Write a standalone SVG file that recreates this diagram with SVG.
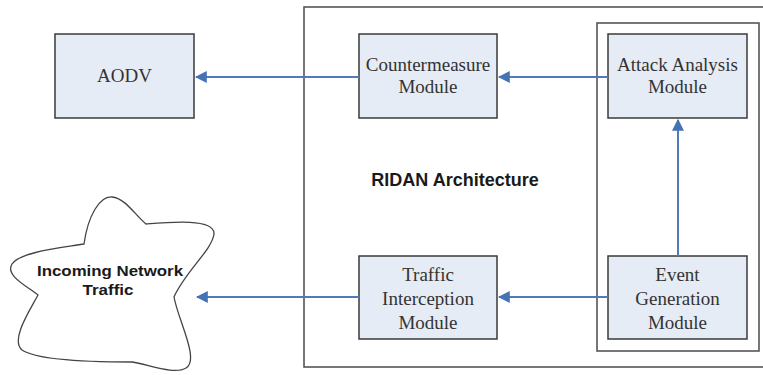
<svg xmlns="http://www.w3.org/2000/svg" width="763" height="375" viewBox="0 0 763 375">
<defs>
<style>
.box{fill:#e6ecf5;stroke:#3a3a3a;stroke-width:1.5}
.frame{fill:none;stroke:#555;stroke-width:1.6}
.lbl{font-family:"Liberation Serif","Times New Roman",serif;font-size:19px;fill:#333;text-anchor:middle}
.bold{font-family:"Liberation Sans",Arial,sans-serif;font-weight:bold;fill:#1a1a1a;text-anchor:middle}
.conn{stroke:#4f7cb8;stroke-width:2;fill:none;marker-end:url(#ah)}
</style>
<marker id="ah" viewBox="0 0 10 10" refX="9" refY="5" markerWidth="6" markerHeight="6" orient="auto" markerUnits="strokeWidth">
<path d="M0,0 L10,5 L0,10 Z" fill="#4572b4"/>
</marker>
</defs>
<rect width="763" height="375" fill="#ffffff"/>
<g id="ridan-frame">
<rect class="frame" x="304" y="7" width="465" height="360"/>
<text class="bold" x="455" y="186" font-size="18">RIDAN Architecture</text>
</g>
<g id="inner-frame">
<rect class="frame" x="597" y="23" width="162" height="328"/>
</g>
<g id="aodv">
<rect class="box" x="55" y="34" width="139" height="84"/>
<text class="lbl" x="124.5" y="82">AODV</text>
</g>
<g id="countermeasure">
<rect class="box" x="359" y="34" width="138" height="84"/>
<text class="lbl" x="428" y="71">Countermeasure</text>
<text class="lbl" x="428" y="93">Module</text>
</g>
<g id="attack-analysis">
<rect class="box" x="608" y="34" width="139" height="84"/>
<text class="lbl" x="677.5" y="71">Attack Analysis</text>
<text class="lbl" x="677.5" y="93">Module</text>
</g>
<g id="traffic-interception">
<rect class="box" x="359" y="256" width="138" height="83"/>
<text class="lbl" x="428" y="281">Traffic</text>
<text class="lbl" x="428" y="305">Interception</text>
<text class="lbl" x="428" y="329">Module</text>
</g>
<g id="event-generation">
<rect class="box" x="608" y="256" width="139" height="83"/>
<text class="lbl" x="677.5" y="281">Event</text>
<text class="lbl" x="677.5" y="305">Generation</text>
<text class="lbl" x="677.5" y="329">Module</text>
</g>
<g id="incoming-traffic">
<path d="M84,244 C88,215 100,196 112,197 C125,198 135,215 146,224 C170,222 215,218 214,234 C212,250 185,272 174,297 C178,320 200,360 186,368 C175,375 150,365 132,362 C110,362 40,362 22,350 C10,340 30,310 38,295 C25,285 5,275 12,264 C20,252 60,248 84,244 Z" fill="#ffffff" stroke="#444" stroke-width="1.3"/>
<text class="bold" x="110" y="276" font-size="15" textLength="146" lengthAdjust="spacingAndGlyphs">Incoming Network</text>
<text class="bold" x="108" y="295" font-size="15" textLength="51" lengthAdjust="spacingAndGlyphs">Traffic</text>
</g>
<g id="connectors">
<line class="conn" x1="359" y1="77" x2="196" y2="77"/>
<line class="conn" x1="608" y1="77" x2="499" y2="77"/>
<line class="conn" x1="678" y1="256" x2="678" y2="120"/>
<line class="conn" x1="608" y1="297" x2="499" y2="297"/>
<line class="conn" x1="359" y1="297" x2="197" y2="297"/>
</g>
</svg>
